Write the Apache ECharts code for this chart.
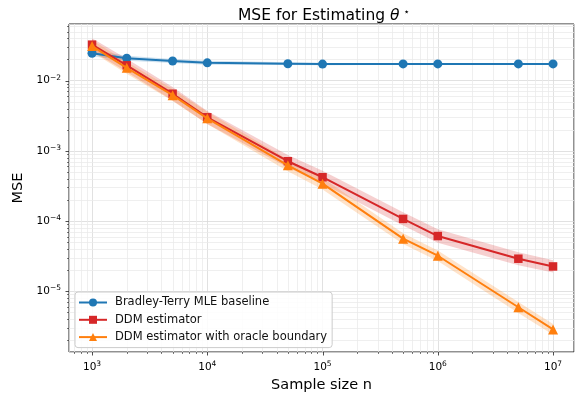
<!DOCTYPE html>
<html>
<head>
<meta charset="utf-8">
<script src="https://cdn.jsdelivr.net/npm/echarts@6/dist/echarts.min.js"></script>
<style>
html, body { margin: 0; padding: 0; background: #fff; }
#chart-container { width: 582px; height: 400px; }
</style>
</head>
<body>
<div id="chart-container"></div>
<script>
var sampleSizes = [1e3, 2e3, 5e3, 1e4, 5e4, 1e5, 5e5, 1e6, 5e6, 1e7];

var btMse   = [0.0245, 0.0208, 0.0190, 0.0179, 0.0174, 0.0172, 0.0173, 0.0173, 0.0173, 0.0173];
var btLow   = [0.0222, 0.0192, 0.0178, 0.0168, 0.0167, 0.0166, 0.0168, 0.0168, 0.0168, 0.0168];
var btHigh  = [0.0270, 0.0225, 0.0203, 0.0191, 0.0182, 0.0178, 0.0178, 0.0178, 0.0178, 0.0178];

var ddmMse  = [0.0325, 0.0165, 0.0065, 0.0030, 7.1e-4, 4.2e-4, 1.07e-4, 6.1e-5, 2.9e-5, 2.25e-5];
var ddmLow  = [0.0265, 0.0133, 0.0052, 0.0024, 5.8e-4, 3.4e-4, 8.6e-5, 4.9e-5, 2.35e-5, 1.85e-5];
var ddmHigh = [0.0400, 0.0205, 0.0081, 0.0037, 8.7e-4, 5.2e-4, 1.33e-4, 7.6e-5, 3.6e-5, 2.75e-5];

var oraMse  = [0.0310, 0.0152, 0.0062, 0.0029, 6.2e-4, 3.4e-4, 5.6e-5, 3.2e-5, 5.9e-6, 2.85e-6];
var oraLow  = [0.0255, 0.0125, 0.0051, 0.0024, 5.1e-4, 2.8e-4, 4.7e-5, 2.7e-5, 4.9e-6, 2.4e-6];
var oraHigh = [0.0380, 0.0185, 0.0076, 0.0036, 7.5e-4, 4.1e-4, 6.7e-5, 3.8e-5, 7.0e-6, 3.4e-6];

var seriesNames = ['Bradley-Terry MLE baseline', 'DDM estimator', 'DDM estimator with oracle boundary'];
var colors = ['#1f77b4', '#d62728', '#ff7f0e'];

var xMin = 631, xMax = 1.52e7;
var yMin = 1.36e-6, yMax = 0.064;

// minor ticks at 2..9 x 10^k inside the axis range
var xMinorTicks = [], yMinorTicks = [];
for (var d = 2; d <= 7; d++) {
    for (var k = 2; k <= 9; k++) {
        var v = k * Math.pow(10, d);
        if (v > xMin && v < xMax) xMinorTicks.push(v);
    }
}
for (var e = -6; e <= -2; e++) {
    for (var k2 = 2; k2 <= 9; k2++) {
        var w = k2 * Math.pow(10, e);
        if (w > yMin && w < yMax) yMinorTicks.push(w);
    }
}
var xMajorTicks = [1e3, 1e4, 1e5, 1e6, 1e7];
var yMajorTicks = [1e-5, 1e-4, 1e-3, 1e-2];

var FONT = 'DejaVu Sans';

function powLabel(value) {
    var p = Math.log(value) / Math.LN10;
    var r = Math.round(p);
    if (Math.abs(p - r) > 1e-6) return '';
    var s = String(r).replace('-', '\u2212');
    return '10{sup|' + s + '}';
}

var labelRich = {
    sup: { fontSize: 7.5, fontFamily: FONT, color: '#000', verticalAlign: 'top', padding: [0, 0, 6, 0] }
};

var dom = document.getElementById('chart-container');
var myChart = echarts.init(dom, null, { renderer: 'canvas' });

function bandSeries(name, lo, hi, color, opacity) {
    return {
        name: name,
        type: 'custom',
        silent: true,
        z: 2,
        encode: { x: 0, y: 1 },
        data: sampleSizes.map(function (x, i) { return [x, lo[i], hi[i]]; }),
        renderItem: function (params, api) {
            if (params.dataIndex !== 0) return null;
            var top = [], bottom = [];
            for (var i = 0; i < sampleSizes.length; i++) {
                top.push(api.coord([sampleSizes[i], hi[i]]));
                bottom.unshift(api.coord([sampleSizes[i], lo[i]]));
            }
            return {
                type: 'polygon',
                shape: { points: top.concat(bottom) },
                style: { fill: color, opacity: opacity }
            };
        }
    };
}

// minor grid lines + tick marks along an axis
function tickSeries(name, values, major, isX) {
    return {
        name: name,
        type: 'custom',
        silent: true,
        z: 1,
        clip: false,
        encode: { x: 0, y: 1 },
        data: values.map(function (v) { return isX ? [v, yMin] : [xMin, v]; }),
        renderItem: function (params, api) {
            var cs = params.coordSys;
            var p = api.coord([api.value(0), api.value(1)]);
            var len = major ? 3.5 : 2;
            var children = [];
            if (isX) {
                var x = Math.round(p[0]) + 0.5;
                if (!major) children.push({ type: 'line', shape: { x1: x, y1: cs.y, x2: x, y2: cs.y + cs.height }, style: { stroke: '#ebebeb', lineWidth: 0.8 } });
                children.push({ type: 'line', shape: { x1: x, y1: cs.y + cs.height, x2: x, y2: cs.y + cs.height + len }, style: { stroke: '#222', lineWidth: major ? 0.8 : 0.6 } });
            } else {
                var y = Math.round(p[1]) + 0.5;
                if (!major) children.push({ type: 'line', shape: { x1: cs.x, y1: y, x2: cs.x + cs.width, y2: y }, style: { stroke: '#ebebeb', lineWidth: 0.8 } });
                children.push({ type: 'line', shape: { x1: cs.x - len, y1: y, x2: cs.x, y2: y }, style: { stroke: '#222', lineWidth: major ? 0.8 : 0.6 } });
            }
            return { type: 'group', children: children };
        }
    };
}

function lineSeries(i, data, symbol, size) {
    return {
        name: seriesNames[i],
        type: 'line',
        z: 3 + i,
        data: sampleSizes.map(function (x, j) { return [x, data[j]]; }),
        symbol: symbol,
        symbolSize: size,
        showAllSymbol: true,
        lineStyle: { color: colors[i], width: 2 },
        itemStyle: { color: colors[i] },
        emphasis: { disabled: true }
    };
}

var option = {
    animation: false,
    textStyle: { fontFamily: FONT },
    title: {
        text: 'MSE for Estimating {it|\u03b8}{sup|\u22c6}',
        left: 233,
        top: 2,
        textStyle: {
            fontFamily: FONT, fontSize: 15.5, fontWeight: 'normal', color: '#000',
            rich: {
                it: { fontFamily: FONT, fontSize: 15.5, fontStyle: 'italic', color: '#000' },
                sup: { fontFamily: FONT, fontSize: 10, color: '#000', verticalAlign: 'top', padding: [0, 0, 7, 4] }
            }
        }
    },
    grid: {
        left: 69, right: 8, top: 24, bottom: 48,
        show: true, borderColor: '#222', borderWidth: 1, backgroundColor: 'transparent'
    },
    legend: {
        orient: 'vertical',
        left: 75, top: 292,
        data: seriesNames,
        itemWidth: 28, itemHeight: 10,
        itemGap: 4.3,
        padding: [4, 5, 4, 3],
        backgroundColor: 'rgba(255,255,255,0.85)',
        borderColor: '#cccccc', borderWidth: 1, borderRadius: 3,
        textStyle: { fontFamily: FONT, fontSize: 11.5, color: '#111', lineHeight: 13, padding: [0, 0, 0, 3] },
        selectedMode: false
    },
    xAxis: {
        type: 'log', logBase: 10,
        min: xMin, max: xMax,
        name: 'Sample size n',
        nameLocation: 'middle', nameGap: 25,
        nameTextStyle: { fontFamily: FONT, fontSize: 14.5, color: '#000' },
        axisLine: { show: false },
        axisTick: { show: false },
        axisLabel: { fontFamily: FONT, fontSize: 10.5, color: '#000', margin: 8, formatter: powLabel, rich: labelRich },
        splitLine: { show: true, lineStyle: { color: '#d9d9d9', width: 0.8 } }
    },
    yAxis: {
        type: 'log', logBase: 10,
        min: yMin, max: yMax,
        name: 'MSE',
        nameLocation: 'middle', nameGap: 42,
        nameTextStyle: { fontFamily: FONT, fontSize: 14.5, color: '#000' },
        axisLine: { show: false },
        axisTick: { show: false },
        axisLabel: { fontFamily: FONT, fontSize: 10.5, color: '#000', margin: 8, formatter: powLabel, rich: labelRich },
        splitLine: { show: true, lineStyle: { color: '#d9d9d9', width: 0.8 } }
    },
    series: [
        tickSeries('xminor', xMinorTicks, false, true),
        tickSeries('xmajor', xMajorTicks, true, true),
        tickSeries('yminor', yMinorTicks, false, false),
        tickSeries('ymajor', yMajorTicks, true, false),
        bandSeries('btBand', btLow, btHigh, colors[0], 0.22),
        bandSeries('ddmBand', ddmLow, ddmHigh, colors[1], 0.22),
        bandSeries('oraBand', oraLow, oraHigh, colors[2], 0.22),
        lineSeries(0, btMse, 'circle', 9),
        lineSeries(1, ddmMse, 'rect', 8.5),
        lineSeries(2, oraMse, 'triangle', 10)
    ]
};

myChart.setOption(option);
window.addEventListener('resize', myChart.resize);
</script>
</body>
</html>
